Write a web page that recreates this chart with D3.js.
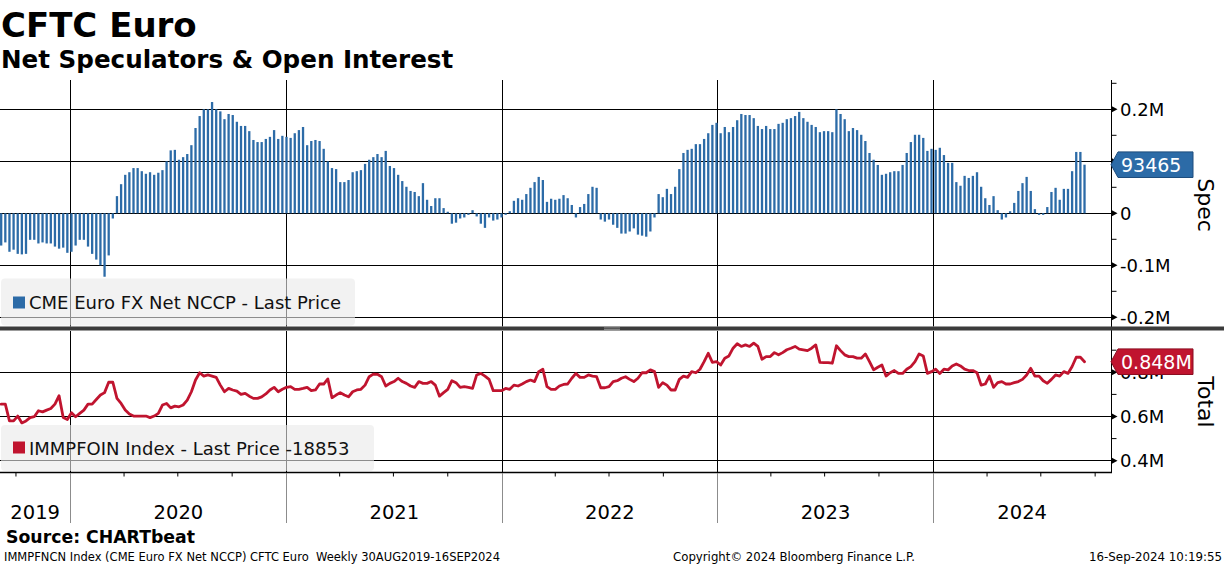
<!DOCTYPE html>
<html><head><meta charset="utf-8">
<script src="https://cdn.jsdelivr.net/npm/d3@7"></script>
<style>
html,body{margin:0;padding:0;background:#fff;}
svg{display:block;font-family:"DejaVu Sans",Verdana,sans-serif;}
</style></head><body>
<svg id="chart" width="1224" height="566"></svg>
<script>
// ---- data ----
const startDate = new Date(2019, 8, 6); // first weekly observation (Friday)
// CME Euro FX Net NCCP, thousands of contracts
const specK = [-62,-56,-74,-70,-78,-79,-78,-51,-51,-58,-56,-58,-58,-64,-68,-66,-76,-74,-62,-51,
-51,-64,-78,-89,-100,-122,-81,-10,33,56,74,79,87,87,81,76,79,74,78,83,
100,121,122,103,108,114,131,164,187,200,200,214,200,196,181,191,189,176,168,168,
158,141,137,137,143,147,160,143,149,147,145,154,160,166,131,139,141,139,124,100,
87,85,60,60,64,79,81,83,95,103,108,114,108,120,91,87,74,62,51,43,
41,33,58,26,14,29,29,10,3,-20,-18,-10,-8,-3,6,-6,-20,-28,-8,-14,
-12,-8,-3,4,24,29,26,37,49,60,70,64,22,28,26,28,35,29,16,-8,
12,18,37,51,49,-12,-16,-12,-22,-28,-39,-39,-35,-29,-41,-43,-45,-35,-8,37,
31,47,37,51,85,116,122,124,133,133,143,154,170,174,154,166,156,166,179,191,
189,189,183,168,162,168,162,162,172,174,181,183,187,195,183,176,170,166,156,158,
158,156,200,191,181,158,164,160,151,139,116,103,93,74,76,79,81,81,93,116,
137,151,151,145,120,124,122,126,112,97,97,60,53,72,68,72,79,51,29,16,
33,6,-12,-8,4,20,43,58,70,43,8,-3,-3,12,41,49,26,47,47,81,
118,118,93.465];
// IMMPFOIN open interest, thousands of contracts
const oiK = [656,656,580,580,602,571,580,595,599,626,621,629,636,656,694,595,586,617,599,614,
629,656,656,677,697,708,755,755,682,659,629,611,602,602,602,602,595,602,614,652,
659,639,647,644,652,674,712,765,798,783,788,783,777,742,712,727,720,715,700,705,
692,682,682,689,702,720,732,712,723,732,735,723,723,727,732,717,720,747,747,770,
685,697,708,697,689,712,720,723,742,780,792,791,780,738,750,758,773,758,750,738,
732,758,750,750,758,742,692,708,723,762,753,732,735,732,727,788,795,783,768,717,
717,717,727,723,742,738,747,758,765,758,803,814,735,723,723,738,745,747,773,795,
777,777,788,783,780,730,730,735,758,762,773,780,768,758,773,798,798,811,803,732,
753,742,720,720,768,783,777,803,798,814,848,886,845,848,833,864,874,909,929,917,
924,917,932,917,859,871,871,889,879,889,902,909,917,905,902,898,909,924,845,844,
844,841,920,898,879,871,871,864,864,883,848,811,823,833,783,798,808,795,795,814,
826,848,883,874,795,803,814,795,814,811,829,838,829,814,808,808,798,742,747,783,
732,753,758,747,747,753,758,768,788,818,783,783,762,750,768,788,783,803,795,826,
868,868,848];
const yearLabels = ["2019","2020","2021","2022","2023","2024"];
const specTicks = [-200,-100,0,100,200];
const specMinorTicks = [-150,-50,50,150,250];
const oiTicks = [400,600,800];
const oiMinorTicks = [500,700,900];
const specLegend = "CME Euro FX Net NCCP - Last Price";
const oiLegend = "IMMPFOIN Index - Last Price -18853";

// ---- setup ----
const svg = d3.select("#chart");
const dates = specK.map((_, i) => d3.timeWeek.offset(startDate, i));
const plotL = 0, plotR = 1111;
const topY0 = 80, topY1 = 326.5, botY0 = 330.5, botY1 = 472;
const x = d3.scaleTime().domain([new Date(2020,0,1), new Date(2024,0,1)]).range([70.3, 933.3]);
const ySpec = d3.scaleLinear().domain([-200,200]).range([317.3,109.3]);
const yOI = d3.scaleLinear().domain([400,800]).range([460.7,372.3]);
const BLUE = "#2c6ba7", RED = "#c0142f";
const years = d3.timeYear.range(new Date(2020,0,1), new Date(2025,0,1));
const fmt = v => v === 0 ? "0" : (v/1000) + "M";
const lastSpec = specK[specK.length-1], lastOI = oiK[oiK.length-1];

const defs = svg.append("defs");
defs.append("clipPath").attr("id","clipTop").append("rect")
  .attr("x",plotL).attr("y",topY0).attr("width",plotR-plotL).attr("height",topY1-topY0);
defs.append("clipPath").attr("id","clipBot").append("rect")
  .attr("x",plotL).attr("y",botY0).attr("width",plotR-plotL).attr("height",botY1-botY0);

// ---- top panel ----
const gTop = svg.append("g").attr("clip-path","url(#clipTop)");
gTop.selectAll("line.h").data(specTicks).join("line")
  .attr("x1",plotL).attr("x2",plotR).attr("y1",d=>ySpec(d)).attr("y2",d=>ySpec(d))
  .attr("stroke","#000").attr("stroke-width",1).attr("shape-rendering","crispEdges");
gTop.selectAll("line.v").data(years).join("line")
  .attr("x1",d=>x(d)).attr("x2",d=>x(d)).attr("y1",topY0).attr("y2",topY1)
  .attr("stroke","#000").attr("stroke-width",1).attr("shape-rendering","crispEdges");
gTop.selectAll("rect.bar").data(specK).join("rect")
  .attr("x",(d,i)=>x(dates[i])-1.15).attr("width",2.3)
  .attr("y",d=>Math.min(ySpec(0),ySpec(d))).attr("height",d=>Math.abs(ySpec(d)-ySpec(0)))
  .attr("fill",BLUE);

// legend 1
svg.append("rect").attr("x",1).attr("y",278.5).attr("width",354).attr("height",47).attr("rx",4)
  .attr("fill","#e9e9e9").attr("opacity",0.6);
svg.append("rect").attr("x",13).attr("y",296.5).attr("width",12).attr("height",12).attr("fill",BLUE);
svg.append("text").attr("x",29).attr("y",309.3).attr("font-size",18).attr("fill","#111").text(specLegend);

// ---- bottom panel ----
const gBot = svg.append("g").attr("clip-path","url(#clipBot)");
gBot.selectAll("line.h").data(oiTicks).join("line")
  .attr("x1",plotL).attr("x2",plotR).attr("y1",d=>yOI(d)).attr("y2",d=>yOI(d))
  .attr("stroke","#000").attr("stroke-width",1).attr("shape-rendering","crispEdges");
gBot.selectAll("line.v").data(years).join("line")
  .attr("x1",d=>x(d)).attr("x2",d=>x(d)).attr("y1",botY0).attr("y2",botY1)
  .attr("stroke","#000").attr("stroke-width",1).attr("shape-rendering","crispEdges");
gBot.append("path").datum(oiK)
  .attr("d", d3.line().x((d,i)=>x(dates[i])).y(d=>yOI(d)))
  .attr("fill","none").attr("stroke",RED).attr("stroke-width",2.8)
  .attr("stroke-linejoin","round").attr("stroke-linecap","round");

// legend 2
svg.append("rect").attr("x",1).attr("y",425).attr("width",373).attr("height",46).attr("rx",4)
  .attr("fill","#e9e9e9").attr("opacity",0.6);
svg.append("rect").attr("x",13).attr("y",441.5).attr("width",12).attr("height",12).attr("fill",RED);
svg.append("text").attr("x",29).attr("y",455).attr("font-size",18).attr("fill","#111").text(oiLegend);

// ---- right axis ----
svg.append("line").attr("x1",plotR+0.5).attr("x2",plotR+0.5).attr("y1",topY0).attr("y2",botY1)
  .attr("stroke","#000").attr("stroke-width",1);
function axisTicks(major, minor, scale, tagY){
  const g = svg.append("g");
  g.selectAll("path.arrow").data(major).join("path")
    .attr("d",d=>{const y=scale(d);return `M${plotR},${y-3.5}L${plotR+6.5},${y}L${plotR},${y+3.5}Z`;})
    .attr("fill","#000");
  g.selectAll("line.minor").data(minor).join("line")
    .attr("x1",plotR).attr("x2",plotR+5.5).attr("y1",d=>scale(d)).attr("y2",d=>scale(d))
    .attr("stroke","#000").attr("stroke-width",1);
  // a label fully covered by the last-value tag is not drawn (as in the original)
  g.selectAll("text").data(major.filter(d => Math.abs(scale(d) - tagY) > 6)).join("text")
    .attr("x",plotR+9).attr("y",d=>scale(d)).attr("dy","0.35em")
    .attr("font-size",18).attr("fill","#000").text(fmt);
}
axisTicks(specTicks, specMinorTicks, ySpec, ySpec(lastSpec));
axisTicks(oiTicks, oiMinorTicks, yOI, yOI(lastOI));

svg.append("text").attr("transform","translate(1198,205) rotate(90)")
  .attr("text-anchor","middle").attr("font-size",22).attr("fill","#000").text("Spec");
svg.append("text").attr("transform","translate(1198,402) rotate(90)")
  .attr("text-anchor","middle").attr("font-size",22).attr("fill","#000").text("Total");

// last value tags
function tag(yv, label, color, stroke){
  const h = 12.8;
  svg.append("path")
    .attr("d",`M${plotR},${yv}L${plotR+7},${yv-h}L1193,${yv-h}L1193,${yv+h}L${plotR+7},${yv+h}Z`)
    .attr("fill",color).attr("stroke",stroke).attr("stroke-width",1);
  svg.append("text").attr("x",1121).attr("y",yv).attr("dy","0.36em")
    .attr("font-size",19).attr("fill","#fff").text(label);
}
tag(ySpec(lastSpec), Math.round(lastSpec*1000).toString(), BLUE, "#1d4c7c");
tag(yOI(lastOI), (lastOI/1000).toFixed(3)+"M", RED, "#8a0d20");

// ---- divider ----
svg.append("rect").attr("x",0).attr("y",326.5).attr("width",1224).attr("height",4).attr("fill","#3b3b3b");
svg.append("rect").attr("x",604).attr("y",327.5).attr("width",16).attr("height",0.8).attr("fill","#9a9a9a");
svg.append("rect").attr("x",604).attr("y",329.2).attr("width",16).attr("height",0.8).attr("fill","#9a9a9a");

// ---- x axis ----
svg.append("line").attr("x1",plotL).attr("x2",plotR+1).attr("y1",472.5).attr("y2",472.5)
  .attr("stroke","#000").attr("stroke-width",1.5);
const quarters = d3.timeMonth.every(3).range(x.invert(plotL), x.invert(plotR))
  .filter(d => d.getMonth() !== 0);
svg.selectAll("line.q").data(quarters).join("line")
  .attr("x1",d=>x(d)).attr("x2",d=>x(d)).attr("y1",472.5).attr("y2",476.5)
  .attr("stroke","#000").attr("stroke-width",1);
svg.selectAll("line.yr").data(years).join("line")
  .attr("x1",d=>x(d)).attr("x2",d=>x(d)).attr("y1",473).attr("y2",523)
  .attr("stroke","#8c8c8c").attr("stroke-width",1).attr("shape-rendering","crispEdges");
svg.selectAll("text.yl").data(yearLabels).join("text")
  .attr("x",d=>{
    const y = +d;
    const a = Math.max(plotL, x(new Date(y,0,1))), b = Math.min(plotR, x(new Date(y+1,0,1)));
    return (a+b)/2;
  })
  .attr("y",519).attr("text-anchor","middle").attr("font-size",19.5).attr("fill","#000").text(d=>d);

// ---- titles & footer ----
svg.append("text").attr("x",1).attr("y",36.5).attr("font-size",34).attr("font-weight","bold")
  .attr("fill","#000").text("CFTC Euro");
svg.append("text").attr("x",1).attr("y",68).attr("font-size",24.6).attr("font-weight","bold")
  .attr("fill","#000").text("Net Speculators & Open Interest");
svg.append("text").attr("x",6).attr("y",543).attr("font-size",17).attr("font-weight","bold")
  .attr("textLength",189).attr("lengthAdjust","spacingAndGlyphs").attr("fill","#000").text("Source: CHARTbeat");
svg.append("text").attr("x",4).attr("y",561).attr("font-size",12).attr("xml:space","preserve")
  .style("white-space","pre")
  .attr("textLength",496).attr("lengthAdjust","spacingAndGlyphs").attr("fill","#000")
  .text("IMMPFNCN Index (CME Euro FX Net NCCP) CFTC Euro  Weekly 30AUG2019-16SEP2024");
svg.append("text").attr("x",673).attr("y",561).attr("font-size",12)
  .attr("textLength",242).attr("lengthAdjust","spacingAndGlyphs").attr("fill","#000")
  .text("Copyright\u00A9 2024 Bloomberg Finance L.P.");
svg.append("text").attr("x",1222).attr("y",561).attr("font-size",12).attr("text-anchor","end")
  .attr("textLength",133).attr("lengthAdjust","spacingAndGlyphs").attr("fill","#000")
  .text("16-Sep-2024 10:19:55");
</script>
</body></html>
